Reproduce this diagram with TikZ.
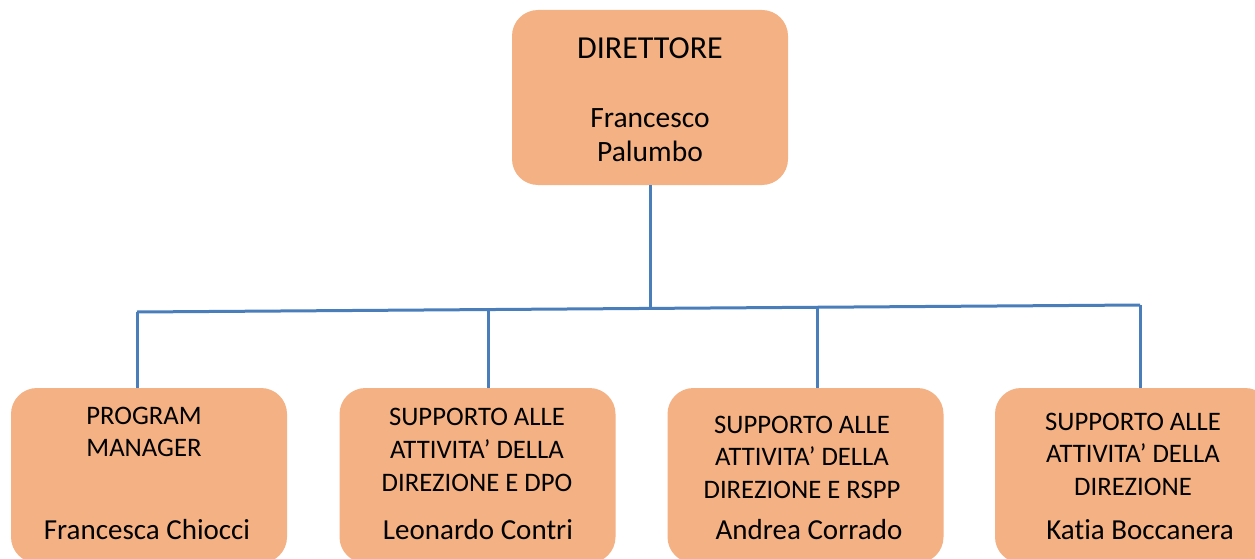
\documentclass[tikz,border=0pt]{standalone}
\usepackage{fontspec}
\setmainfont[Ligatures=NoCommon]{Carlito}
\usepackage{xcolor}
\definecolor{boxfill}{HTML}{F4B183}
\definecolor{wire}{HTML}{4A7EBB}
\tikzset{
	unit/.style={draw=none, fill=boxfill, rounded corners=26pt, minimum width=276pt, minimum height=175pt, inner sep=0pt},
	lbl/.style={align=center, inner sep=0pt, font=\fontsize{26.7}{32.5}\selectfont},
	who/.style={inner sep=0pt, font=\fontsize{29}{33}\selectfont},
	link/.style={draw=wire, line width=3pt}
}

\begin{document}
\begin{tikzpicture}[x=1pt, y=-1pt]
			\clip (0,0) rectangle (1255,559);
			\fill [white] (0,0) rectangle (1255,559);
			% boxes
			\node [unit] (dir) at (650,97.5) {};
			\node [unit] (pm) at (149,475.5) {};
			\node [unit] (dpo) at (477.5,475.5) {};
			\node [unit] (rspp) at (805.5,475.5) {};
			\node [unit] (supp) at (1133,475.5) {};
			% wires
			\coordinate (busl) at (137,312);
			\coordinate (busr) at (1140,305);
			\coordinate (busm) at (650,309);
			\coordinate (busb) at (488,310.3);
			\coordinate (busc) at (817,307.3);
			\draw [link] (dir.south) -- (busm);
			\draw [link] (busl) -- (busr);
			\draw [link] (busl) -- (busl |- pm.north);
			\draw [link] (busb) -- (busb |- dpo.north);
			\draw [link] (busc) -- (busc |- rspp.north);
			\draw [link] (busr) -- (busr |- supp.north);
			% texts
			\node [lbl, font=\fontsize{32}{34}\selectfont] (dirt) at (650,48) {DIRETTORE};
			\node [lbl, font=\fontsize{29.5}{34}\selectfont] (dirn) at (650,135) {Francesco\\Palumbo};
			\node [lbl] (pmt) at (144,432) {PROGRAM\\MANAGER};
			\node [who] (pmn) at (147,530) {Francesca Chiocci};
			\node [lbl, font=\fontsize{26.7}{33}\selectfont] (dpot) at (477,450) {SUPPORTO ALLE\\ATTIVITA’ DELLA\\DIREZIONE E DPO};
			\node [who] (dpon) at (478,530) {Leonardo Contri};
			\node [lbl] (rsppt) at (802,457) {SUPPORTO ALLE\\ATTIVITA’ DELLA\\DIREZIONE E RSPP};
			\node [who] (rsppn) at (809,530) {Andrea Corrado};
			\node [lbl] (suppt) at (1133,454) {SUPPORTO ALLE\\ATTIVITA’ DELLA\\DIREZIONE};
			\node [who] (suppn) at (1140,530) {Katia Boccanera};
		\end{tikzpicture}
\end{document}
